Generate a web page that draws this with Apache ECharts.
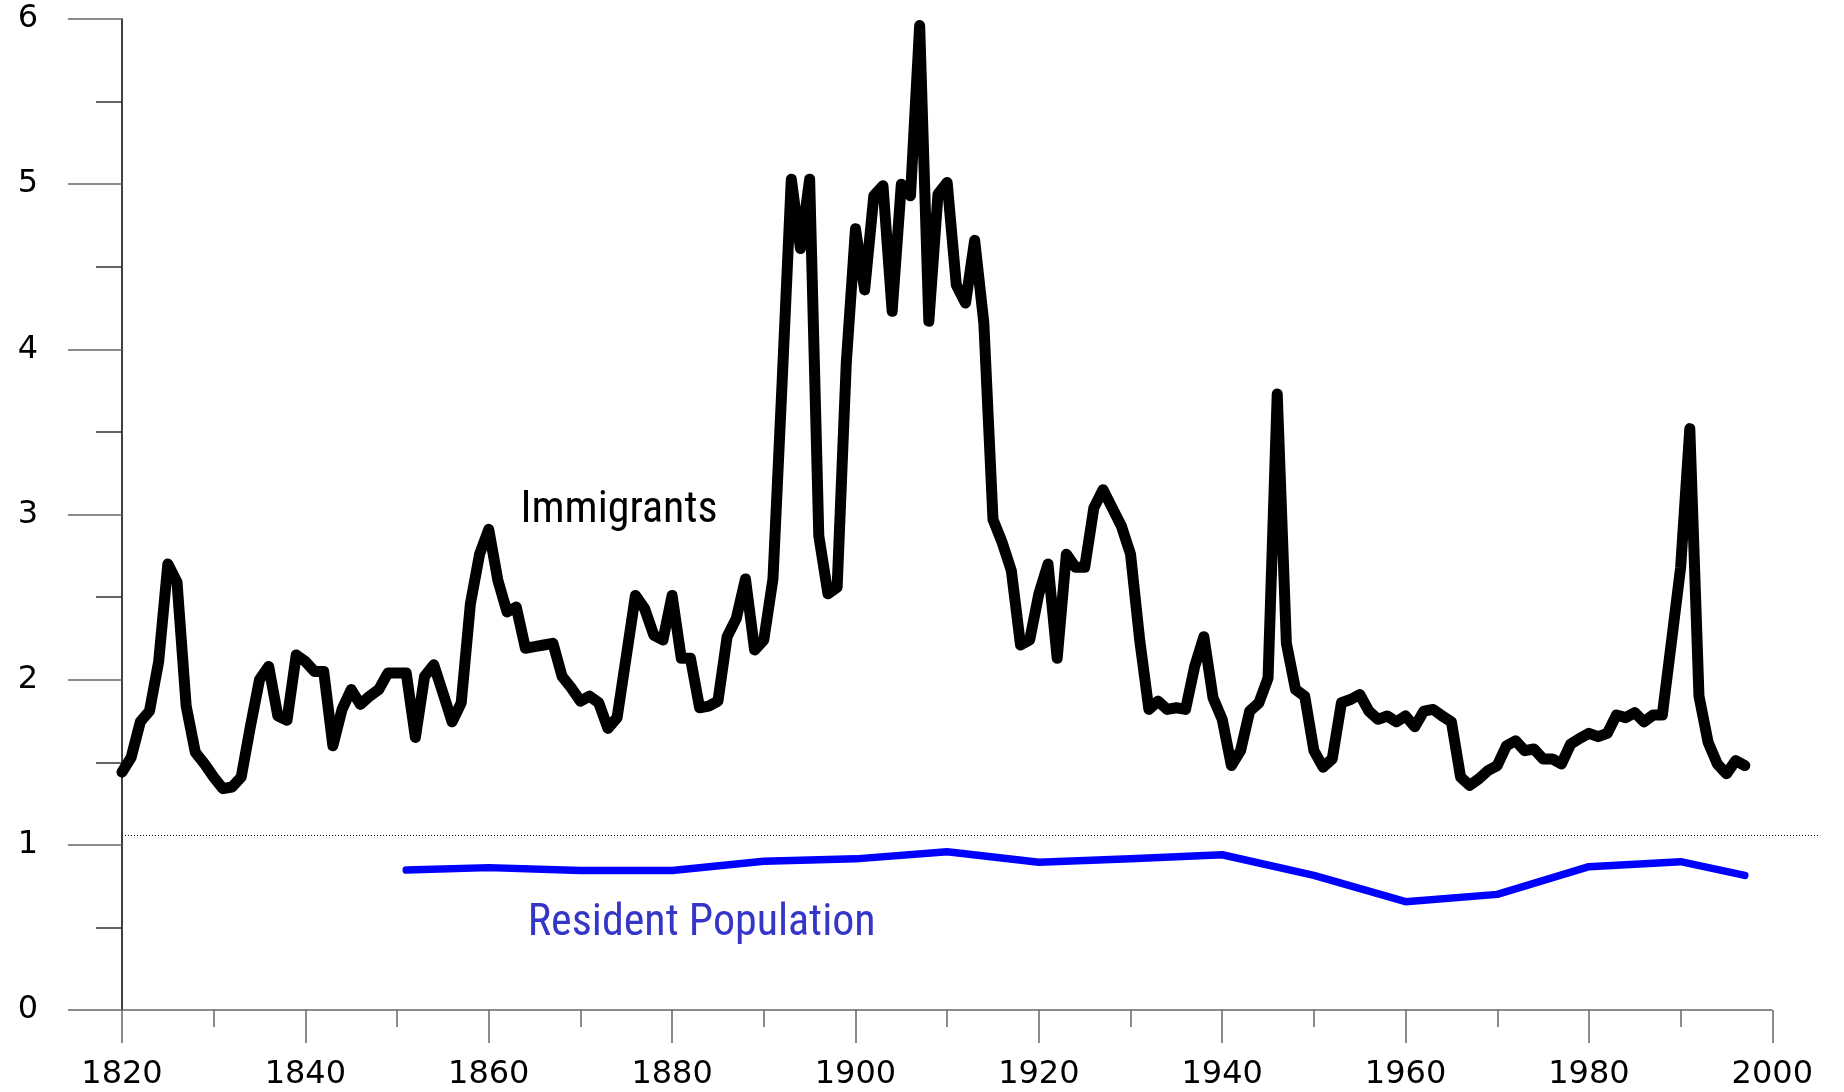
<!DOCTYPE html>
<html>
<head>
<meta charset="utf-8">
<script src="https://cdn.jsdelivr.net/npm/echarts@6/dist/echarts.min.js"></script>
<style>
html,body{margin:0;padding:0;background:#ffffff;}
#chart{width:1844px;height:1092px;}
</style>
</head>
<body>
<div id="chart"></div>
<script>
// ---- data ----
const immStartYear = 1820;
const immValues = [
  1.44, 1.53, 1.745, 1.81, 2.11, 2.70, 2.59, 1.84, 1.56, 1.49,   // 1820-1829
  1.41, 1.34, 1.35, 1.41, 1.715, 2.00, 2.08, 1.78, 1.755, 2.15,  // 1830-1839
  2.11, 2.05, 2.05, 1.60, 1.82, 1.94, 1.85, 1.90, 1.94, 2.04,    // 1840-1849
  2.04, 2.04, 1.65, 2.02, 2.09, 1.92, 1.745, 1.86, 2.46, 2.76,   // 1850-1859
  2.91, 2.60, 2.41, 2.44, 2.19, 2.20, 2.21, 2.22, 2.02, 1.95,    // 1860-1869
  1.87, 1.90, 1.86, 1.705, 1.77, 2.14, 2.51, 2.43, 2.27, 2.24,   // 1870-1879
  2.51, 2.13, 2.13, 1.83, 1.84, 1.87, 2.26, 2.37, 2.61, 2.18,    // 1880-1889
  2.24, 2.61, 3.80, 5.03, 4.61, 5.03, 2.87, 2.52, 2.56, 3.92,    // 1890-1899
  4.73, 4.36, 4.93, 4.99, 4.23, 5.00, 4.93, 5.96, 4.17, 4.94,    // 1900-1909
  5.01, 4.39, 4.28, 4.66, 4.16, 2.97, 2.83, 2.66, 2.21, 2.24,    // 1910-1919
  2.52, 2.70, 2.13, 2.76, 2.68, 2.68, 3.04, 3.15, 3.04, 2.93,    // 1920-1929
  2.76, 2.24, 1.82, 1.87, 1.82, 1.83, 1.82, 2.08, 2.26, 1.89,    // 1930-1939
  1.76, 1.48, 1.57, 1.81, 1.86, 2.01, 3.73, 2.22, 1.94, 1.90,    // 1940-1949
  1.57, 1.47, 1.52, 1.86, 1.88, 1.91, 1.81, 1.76, 1.78, 1.745,   // 1950-1959
  1.78, 1.715, 1.81, 1.82, 1.78, 1.745, 1.41, 1.36, 1.40, 1.45,  // 1960-1969
  1.48, 1.60, 1.63, 1.57, 1.58, 1.52, 1.52, 1.49, 1.61, 1.645,   // 1970-1979
  1.675, 1.655, 1.675, 1.786, 1.77, 1.80, 1.745, 1.786, 1.786, 2.23, // 1980-1989
  2.68, 3.52, 1.90, 1.62, 1.49, 1.43, 1.51, 1.48                 // 1990-1997
];
const immYears = immValues.map(function (v, i) { return immStartYear + i; });

const popYears  = [1851, 1860, 1870, 1880, 1890, 1900, 1910, 1920, 1930, 1940, 1950, 1960, 1970, 1980, 1990, 1997];
const popValues = [0.847, 0.862, 0.845, 0.845, 0.90, 0.915, 0.958, 0.895, 0.915, 0.94, 0.815, 0.656, 0.70, 0.868, 0.898, 0.815];

const xMajorTicks = [1820, 1840, 1860, 1880, 1900, 1920, 1940, 1960, 1980, 2000];
const xMinorTicks = [1830, 1850, 1870, 1890, 1910, 1930, 1950, 1970, 1990];
const xMin = 1820, xAxisEnd = 2000, xMax = 2005.2;
const yMin = 0, yMax = 6, yInterval = 1;
const refLevel = 1.06;

const immLabel = { text: 'Immigrants', x: 1863.4, y: 3.02 };
const popLabel = { text: 'Resident Population', x: 1864.2, y: 0.52 };

// ---- chart ----
const chart = echarts.init(document.getElementById('chart'), null, { renderer: 'canvas' });

const tickFont = 'DejaVu Sans';
const narrowFont = "'Liberation Sans Narrow', 'Roboto Condensed', 'DejaVu Sans Condensed', sans-serif";

const option = {
  animation: false,
  backgroundColor: '#ffffff',
  grid: { left: 122, right: 24, top: 19, bottom: 82, containLabel: false },
  xAxis: [
    {
      type: 'value', min: xMin, max: xMax, position: 'bottom',
      axisLine: { show: false },
      splitLine: { show: false },
      axisTick: { show: true, customValues: xMajorTicks, length: 33, lineStyle: { color: '#666', width: 1.5 } },
      axisLabel: { show: true, customValues: xMajorTicks, margin: 49, fontSize: 32, fontFamily: tickFont, color: '#000',
        formatter: function (v) { return String(v); } }
    },
    {
      type: 'value', min: xMin, max: xMax, position: 'bottom',
      axisLine: { show: false },
      splitLine: { show: false },
      axisTick: { show: true, customValues: xMinorTicks, length: 17, lineStyle: { color: '#666', width: 1.5 } },
      axisLabel: { show: false }
    }
  ],
  yAxis: {
    type: 'value', min: yMin, max: yMax, interval: yInterval,
    axisLine: { show: true, lineStyle: { color: '#000', width: 1.5 } },
    axisTick: { show: true, length: 54, lineStyle: { color: '#666', width: 1.5 } },
    minorTick: { show: true, splitNumber: 2, length: 26, lineStyle: { color: '#333', width: 1.5 } },
    splitLine: { show: false },
    minorSplitLine: { show: false },
    axisLabel: { margin: 84, fontSize: 32, fontFamily: tickFont, color: '#000' }
  },
  series: [
    {
      name: 'Immigrants',
      type: 'line',
      xAxisIndex: 0,
      data: immYears.map(function (y, i) { return [y, immValues[i]]; }),
      showSymbol: false,
      symbol: 'none',
      lineStyle: { color: '#000', width: 11, join: 'round', cap: 'round' },
      itemStyle: { color: '#000' },
      z: 4,
      silent: true,
      markLine: {
        silent: true,
        symbol: ['none', 'none'],
        label: { show: false },
        animation: false,
        data: [
          [ { coord: [xMin, yMin], lineStyle: { color: '#666', width: 1.5, type: 'solid' } },
            { coord: [xAxisEnd, yMin] } ],
          [ { coord: [xMin, refLevel], lineStyle: { color: '#000', width: 1, type: [1, 2] } },
            { coord: [xMax, refLevel] } ]
        ]
      },
      markPoint: {
        silent: true,
        symbol: 'circle',
        symbolSize: 1,
        itemStyle: { color: 'rgba(0,0,0,0)' },
        label: { show: true, position: 'right', distance: 0, formatter: immLabel.text,
          fontFamily: narrowFont, fontSize: 44, color: '#000' },
        data: [ { coord: [immLabel.x, immLabel.y] } ]
      }
    },
    {
      name: 'Resident Population',
      type: 'line',
      xAxisIndex: 0,
      data: popYears.map(function (y, i) { return [y, popValues[i]]; }),
      showSymbol: false,
      symbol: 'none',
      lineStyle: { color: '#0000ff', width: 7.5, join: 'round', cap: 'round' },
      itemStyle: { color: '#0000ff' },
      z: 3,
      silent: true,
      markPoint: {
        silent: true,
        symbol: 'circle',
        symbolSize: 1,
        itemStyle: { color: 'rgba(0,0,0,0)' },
        label: { show: true, position: 'right', distance: 0, formatter: popLabel.text,
          fontFamily: narrowFont, fontSize: 44, color: '#3535c8' },
        data: [ { coord: [popLabel.x, popLabel.y] } ]
      }
    }
  ]
};

chart.setOption(option);
</script>
</body>
</html>
